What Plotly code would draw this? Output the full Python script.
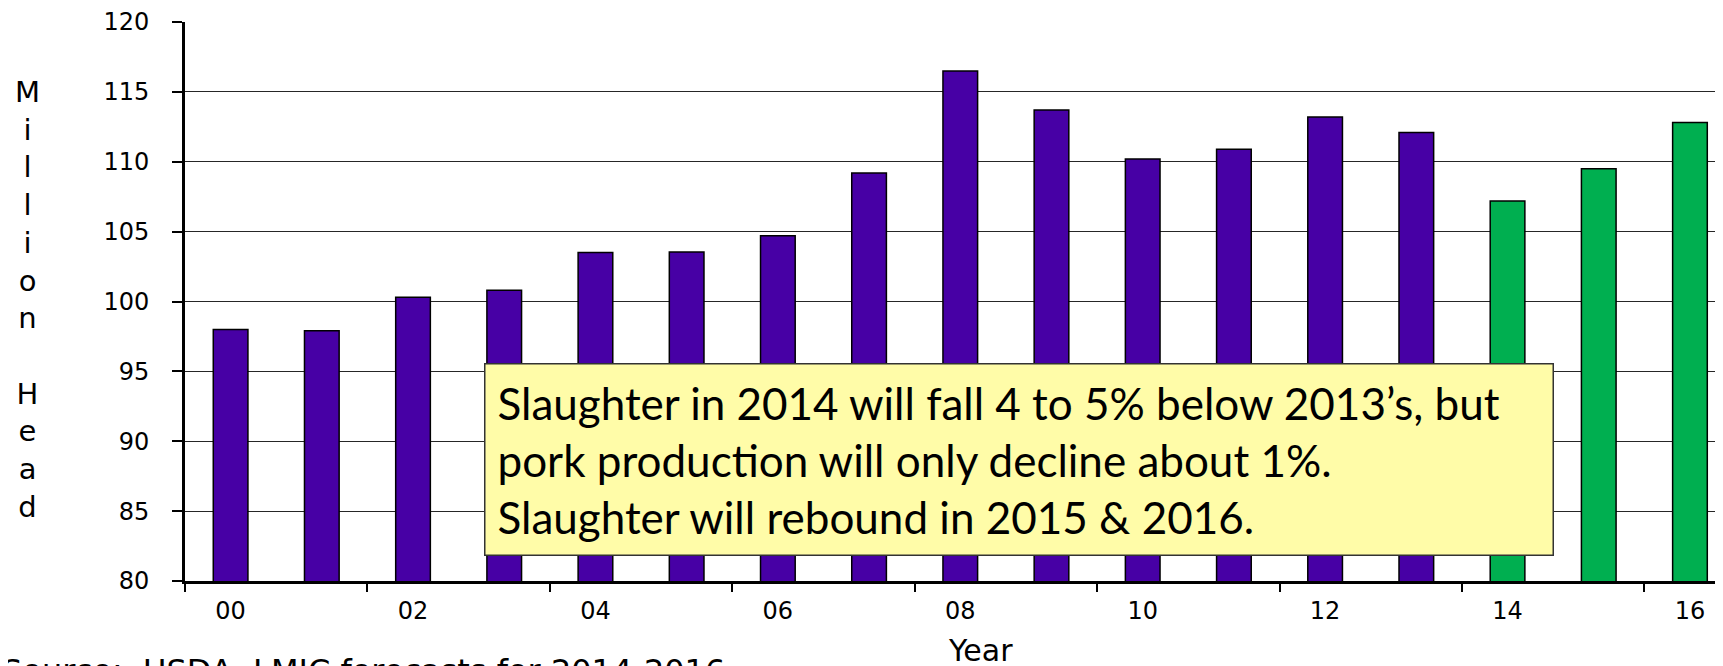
import plotly.graph_objects as go

# Annual hog slaughter, million head (2014-2016 are forecasts)
years = ["00", "01", "02", "03", "04", "05", "06", "07", "08",
         "09", "10", "11", "12", "13", "14", "15", "16"]
slaughter = [98.0, 97.9, 100.3, 100.8, 103.5, 103.55, 104.7, 109.2, 116.5,
             113.7, 110.2, 110.9, 113.2, 112.1, 107.2, 109.5, 112.8]
forecast_years = ["14", "15", "16"]
tick_years = ["00", "02", "04", "06", "08", "10", "12", "14", "16"]

note_lines = [
    "Slaughter in 2014 will fall 4 to 5% below 2013\u2019s, but",
    "pork production will only decline about 1%.",
    "Slaughter will rebound in 2015 & 2016.",
]
y_title = "Million Head"
source_text = "Source:  USDA, LMIC forecasts for 2014-2016"

PURPLE = "#4700A5"
GREEN = "#00AF50"
bar_colors = [GREEN if y in forecast_years else PURPLE for y in years]

axis_font = dict(family="DejaVu Sans", size=24, color="black")

fig = go.Figure()
fig.add_trace(go.Bar(
    x=years, y=slaughter,
    width=0.38,
    marker=dict(color=bar_colors, line=dict(color="black", width=1.5)),
))

# page body has an 8px margin, so margins are set 8px smaller
fig.update_layout(
    width=1723, height=666,
    margin=dict(l=177, r=0, t=14, b=93),
    paper_bgcolor="white", plot_bgcolor="white",
    showlegend=False,
    xaxis=dict(
        type="category", range=[-0.5, 16.45],
        tickmode="array", tickvals=tick_years,
        tickson="boundaries", ticks="outside", ticklen=8, tickwidth=2,
        tickcolor="black", showgrid=False,
        showline=True, linecolor="black", linewidth=3,
        tickfont=axis_font, ticklabelstandoff=6,
    ),
    yaxis=dict(
        range=[80, 120], dtick=5, tick0=80,
        ticks="outside", ticklen=10, tickwidth=2, tickcolor="black",
        showgrid=True, gridcolor="#262626", gridwidth=1.4,
        showline=True, linecolor="black", linewidth=3,
        tickfont=axis_font, ticklabelstandoff=18,
        zeroline=False,
    ),
)

# vertical, letter-by-letter axis title
fig.add_annotation(
    text="<br>".join(y_title.replace(" ", "\u00a0")),
    xref="paper", yref="paper", x=-0.102, y=0.504,
    xanchor="center", yanchor="middle", showarrow=False,
    font=dict(family="DejaVu Sans", size=29, color="black"),
)

fig.add_annotation(
    text="Year", xref="paper", yref="paper", x=0.5144, y=-0.16,
    xanchor="center", yanchor="bottom", showarrow=False,
    font=dict(family="DejaVu Sans", size=30, color="black"),
)

fig.add_annotation(
    text=source_text, xref="paper", yref="paper", x=-0.1198, y=-0.124,
    xanchor="left", yanchor="top", showarrow=False,
    font=dict(family="DejaVu Sans", size=32, color="black"),
)

# yellow call-out box
fig.add_annotation(
    text="<br>".join(note_lines),
    xref="paper", yref="paper", x=0.1931, y=0.3905,
    xanchor="left", yanchor="top", align="left", showarrow=False,
    width=1043, borderpad=12,
    bgcolor="#FFFCA8", bordercolor="#333333", borderwidth=1.5,
    font=dict(family="Lato", size=44, color="black"),
)

fig.write_html("out.html")
